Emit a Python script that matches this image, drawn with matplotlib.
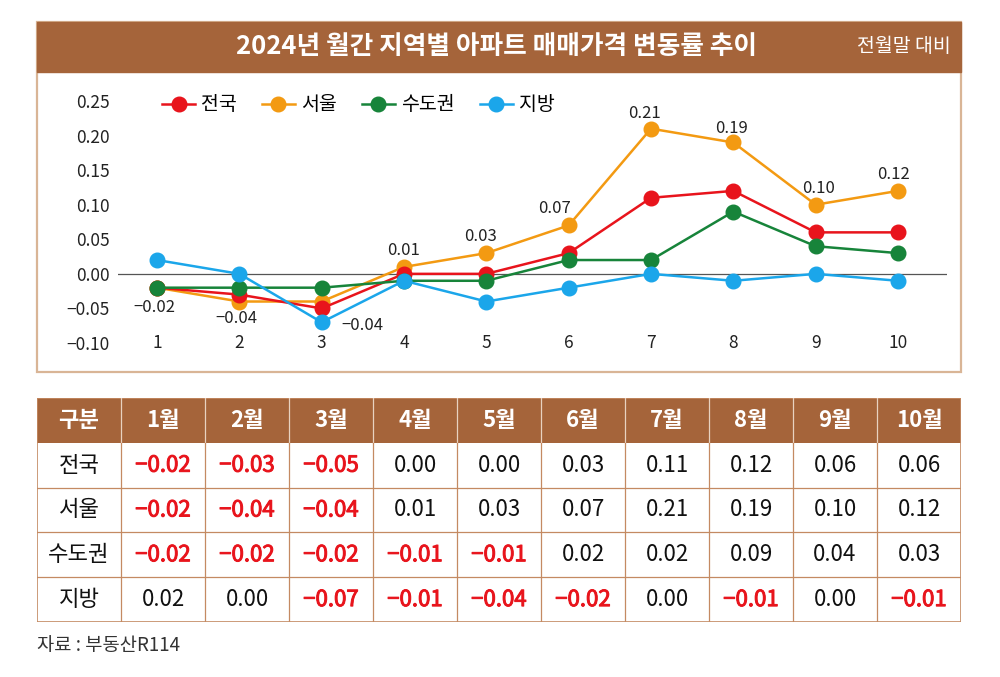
import matplotlib
matplotlib.use("Agg")
import matplotlib.pyplot as plt
import matplotlib.patheffects as pe
from matplotlib.patches import Rectangle
from matplotlib.lines import Line2D

plt.rcParams["font.family"] = ["Noto Sans CJK KR", "DejaVu Sans"]

# ---------------------------------------------------------------------------
# Data
# ---------------------------------------------------------------------------
months = [1, 2, 3, 4, 5, 6, 7, 8, 9, 10]
month_labels = ["1월", "2월", "3월", "4월", "5월", "6월", "7월", "8월", "9월", "10월"]
series_names = ["전국", "서울", "수도권", "지방"]
nation = [-0.02, -0.03, -0.05, 0.00, 0.00, 0.03, 0.11, 0.12, 0.06, 0.06]
seoul = [-0.02, -0.04, -0.04, 0.01, 0.03, 0.07, 0.21, 0.19, 0.10, 0.12]
capital = [-0.02, -0.02, -0.02, -0.01, -0.01, 0.02, 0.02, 0.09, 0.04, 0.03]
local = [0.02, 0.00, -0.07, -0.01, -0.04, -0.02, 0.00, -0.01, 0.00, -0.01]
yticks = [-0.10, -0.05, 0.00, 0.05, 0.10, 0.15, 0.20, 0.25]

title = "2024년 월간 지역별 아파트 매매가격 변동률 추이"
subtitle = "전월말 대비"
source = "자료 : 부동산R114"

# ---------------------------------------------------------------------------
# Styling
# ---------------------------------------------------------------------------
BROWN = "#a5643a"
TAN = "#d9b596"
GRID = "#c48a62"
NEG = "#e8141c"
colors = {"전국": "#e8141c", "서울": "#f39a12", "수도권": "#17843a", "지방": "#1ba6ea"}
zorders = {"전국": 4, "서울": 3, "수도권": 5, "지방": 6}
# offsets (points) for the Seoul value labels
label_offsets = [(-2, -14), (-2, -12), (29, -17), (0, 12), (-4, 12),
                 (-10, 12), (-5, 11), (-1, 10), (2, 12), (-3, 12)]

W, H = 1000, 677


def fx(x):
    return x / W


def fy(y):
    return 1 - y / H


def fmt(v):
    return f"{v:.2f}".replace("-", "−")


fig = plt.figure(figsize=(10, 6.77), dpi=100)

# frame + title bar
fig.patches.append(Rectangle((fx(37), fy(372)), 924 / W, 350 / H, fill=False,
                             ec=TAN, lw=1.6, transform=fig.transFigure))
fig.patches.append(Rectangle((fx(37), fy(72)), 924 / W, 50 / H, fc=BROWN,
                             ec=BROWN, lw=1.0, transform=fig.transFigure))
fig.text(fx(497), fy(47), title, color="white", fontsize=18.5, fontweight="bold",
         ha="center", va="center")
fig.text(fx(951), fy(47), subtitle, color="white", fontsize=14,
         ha="right", va="center")

# ---------------------------------------------------------------------------
# Line chart
# ---------------------------------------------------------------------------
ymin, ymax = -0.115, 0.265
px_per_unit = (343 - 101) / 0.35
top_px = 101 - (ymax - 0.25) * px_per_unit
bot_px = 343 + (-0.10 - ymin) * px_per_unit
ax = fig.add_axes([fx(118), fy(bot_px), (947 - 118) / W, (bot_px - top_px) / H])
ax.set_ylim(ymin, ymax)
xpx = (898 - 157) / 9
ax.set_xlim(1 - (157 - 118) / xpx, 10 + (947 - 898) / xpx)
for s in ax.spines.values():
    s.set_visible(False)
ax.set_xticks([])
ax.set_yticks(yticks)
ax.set_yticklabels([fmt(v) for v in yticks])
ax.tick_params(axis="y", length=0, pad=6, labelsize=12.5, labelcolor="#222222")
ax.axhline(0, color="#555555", lw=0.9, zorder=1)
for m in months:
    ax.text(m, -0.10, str(m), ha="center", va="center", fontsize=12.5, color="#222222")

data = {"전국": nation, "서울": seoul, "수도권": capital, "지방": local}
for name in series_names:
    ax.plot(months, data[name], color=colors[name], lw=1.8, marker="o",
            markersize=10.5, zorder=zorders[name], clip_on=False)

for m, v, off in zip(months, seoul, label_offsets):
    ax.annotate(fmt(v), (m, v), xytext=off,
                textcoords="offset points", ha="center", va="center",
                fontsize=12, color="#222222", zorder=10)

handles = [Line2D([], [], color=colors[n], lw=1.8, marker="o", markersize=10.5)
           for n in series_names]
fig.legend(handles, series_names, loc="center left",
           bbox_to_anchor=(fx(162), fy(105)), ncol=4, frameon=False,
           fontsize=14, handlelength=1.7, handletextpad=0.3, columnspacing=1.3,
           borderpad=0, borderaxespad=0)

# ---------------------------------------------------------------------------
# Table
# ---------------------------------------------------------------------------
rows = [nation, seoul, capital, local]
tx = fig.add_axes([fx(37), fy(622), 924 / W, (622 - 398) / H])
tx.set_xlim(0, 11)
tx.set_ylim(5, 0)
tx.axis("off")

header = ["구분"] + month_labels
tx.add_patch(Rectangle((0, 0), 11, 1, fc=BROWN, ec="none"))
for j, h in enumerate(header):
    tx.text(j + 0.5, 0.5, h, ha="center", va="center", color="white",
            fontsize=16, fontweight="bold")
for j in range(1, 11):
    tx.plot([j, j], [0, 1], color="#e8d2c0", lw=0.9)
    tx.plot([j, j], [1, 5], color=GRID, lw=0.9)
for i in range(2, 5):
    tx.plot([0, 11], [i, i], color=GRID, lw=0.9)
tx.add_patch(Rectangle((0, 0), 11, 5, fill=False, ec=GRID, lw=1.2))

semi_bold = [pe.withStroke(linewidth=0.7, foreground=NEG)]
for i, (name, vals) in enumerate(zip(series_names, rows)):
    r = i + 1.5
    tx.text(0.5, r, name, ha="center", va="center", fontsize=16, color="#111111")
    for j, v in enumerate(vals):
        neg = v < 0
        tx.text(j + 1.5, r, fmt(v), ha="center", va="center", fontsize=16,
                color=NEG if neg else "#111111",
                path_effects=semi_bold if neg else None)

fig.text(fx(37), fy(645), source, ha="left", va="center", fontsize=13.5,
         color="#333333")

fig.savefig("out.png", dpi=100)
